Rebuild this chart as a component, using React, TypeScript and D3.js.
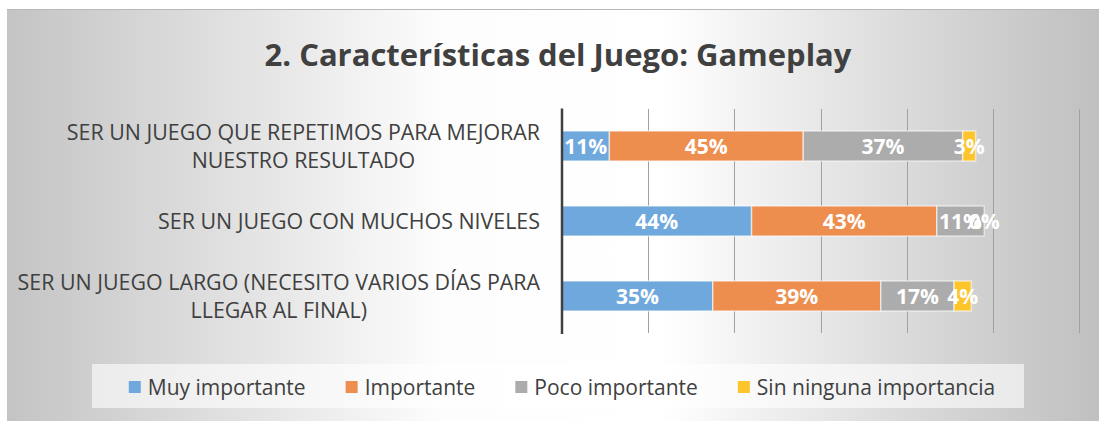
import React, { useEffect, useRef } from 'react';
import * as d3 from 'd3';

const width = 1099;
const height = 421;

const title = '2. Características del Juego: Gameplay';
const categories = [
  'SER UN JUEGO QUE REPETIMOS PARA MEJORAR\nNUESTRO RESULTADO',
  'SER UN JUEGO CON MUCHOS NIVELES',
  'SER UN JUEGO LARGO (NECESITO VARIOS DÍAS PARA\nLLEGAR AL FINAL)',
];
const seriesNames = ['Muy importante', 'Importante', 'Poco importante', 'Sin ninguna importancia'];
const muyImportante = [11, 44, 35];
const importante = [45, 43, 39];
const pocoImportante = [37, 11, 17];
const sinImportancia = [3, 0, 4];
const xTicks = [0, 20, 40, 60, 80, 100, 120];

const colors = ['#6fa8dc', '#ee8e4e', '#acacac', '#fdc42b'];
const textColor = '#404040';
const font = "'Open Sans', sans-serif";

const App = () => {
  const ref = useRef<SVGSVGElement>(null);

  useEffect(() => {
    const svg = d3.select(ref.current);
    svg.selectAll('*').remove();

    // background
    const defs = svg.append('defs');
    const grad = defs
      .append('linearGradient')
      .attr('id', 'bg')
      .attr('gradientUnits', 'userSpaceOnUse')
      .attr('x1', 7)
      .attr('y1', 0)
      .attr('x2', width)
      .attr('y2', 0);
    [
      [0, '#c4c4c4'],
      [0.2, '#e0e0e0'],
      [0.4, '#fdfdfd'],
      [0.6, '#ffffff'],
      [0.85, '#d6d6d6'],
      [1, '#c0c0c0'],
    ].forEach(([o, c]) => grad.append('stop').attr('offset', o).attr('stop-color', c));

    svg.append('rect').attr('x', 7).attr('y', 9).attr('width', width - 7).attr('height', height - 9).attr('fill', 'url(#bg)');
    svg.append('line').attr('x1', 7).attr('x2', width).attr('y1', 9.5).attr('y2', 9.5).attr('stroke', '#b8b8b8');

    svg
      .append('text')
      .attr('x', 558)
      .attr('y', 66)
      .attr('text-anchor', 'middle')
      .attr('font-family', font)
      .attr('font-weight', 700)
      .attr('font-size', 31)
      .attr('fill', textColor)
      .text(title);

    const x = d3.scaleLinear().domain([0, 120]).range([562, 1079]);
    const y = d3.scaleBand<string>().domain(categories).range([108.5, 333.5]).paddingInner(0.6).paddingOuter(0.3);

    // gridlines
    svg
      .append('g')
      .selectAll('line')
      .data(xTicks.slice(1))
      .join('line')
      .attr('x1', (d) => Math.round(x(d)) + 0.5)
      .attr('x2', (d) => Math.round(x(d)) + 0.5)
      .attr('y1', 109)
      .attr('y2', 333)
      .attr('stroke', '#a0a0a0')
      .attr('stroke-width', 1);

    const rows = categories.map((c, i) => ({
      cat: c,
      [seriesNames[0]]: muyImportante[i],
      [seriesNames[1]]: importante[i],
      [seriesNames[2]]: pocoImportante[i],
      [seriesNames[3]]: sinImportancia[i],
    }));
    const stacked = d3.stack<any>().keys(seriesNames)(rows);

    const layers = svg
      .append('g')
      .selectAll('g')
      .data(stacked)
      .join('g')
      .attr('fill', (d, i) => colors[i]);

    layers
      .selectAll('rect')
      .data((d) => d)
      .join('rect')
      .attr('x', (d) => x(d[0]))
      .attr('y', (d) => y(d.data.cat)!)
      .attr('width', (d) => x(d[1]) - x(d[0]))
      .attr('height', y.bandwidth())
      .attr('stroke', 'rgba(255,255,255,0.55)')
      .attr('stroke-width', 1.5);

    // data labels
    svg
      .append('g')
      .selectAll('g')
      .data(stacked)
      .join('g')
      .selectAll('text')
      .data((d) => d)
      .join('text')
      .attr('x', (d) => (x(d[0]) + x(d[1])) / 2)
      .attr('y', (d) => y(d.data.cat)! + y.bandwidth() / 2 + 7.5)
      .attr('text-anchor', 'middle')
      .attr('font-family', font)
      .attr('font-weight', 700)
      .attr('font-size', 21)
      .attr('fill', '#ffffff')
      .text((d) => `${d[1] - d[0]}%`);

    // axis line
    svg.append('line').attr('x1', 562).attr('x2', 562).attr('y1', 108.5).attr('y2', 334).attr('stroke', '#404040').attr('stroke-width', 2.5);

    // category labels, wrapped lines centred within a right-aligned block
    categories.forEach((c) => {
      const lines = c.split('\n');
      const cy = y(c)! + y.bandwidth() / 2;
      const g = svg.append('g');
      const texts = lines.map((ln, i) =>
        g
          .append('text')
          .attr('y', cy + (i - (lines.length - 1) / 2) * 28 + 7.5)
          .attr('text-anchor', 'middle')
          .attr('font-family', font)
          .attr('font-size', 21.4)
          .attr('fill', textColor)
          .text(ln)
      );
      const maxW = d3.max(texts, (t) => (t.node() as SVGTextElement).getComputedTextLength()) || 0;
      texts.forEach((t) => t.attr('x', 540 - maxW / 2));
    });

    // legend
    svg.append('rect').attr('x', 92).attr('y', 364).attr('width', 932).attr('height', 44).attr('fill', '#ffffff').attr('fill-opacity', 0.6);
    const lg = svg.append('g');
    let cx = 0;
    seriesNames.forEach((name, i) => {
      const item = lg.append('g').attr('transform', `translate(${cx},0)`);
      item.append('rect').attr('x', 0).attr('y', 381).attr('width', 12).attr('height', 12).attr('fill', colors[i]);
      const t = item
        .append('text')
        .attr('x', 19)
        .attr('y', 394.5)
        .attr('font-family', font)
        .attr('font-size', 21)
        .attr('fill', textColor)
        .text(name);
      cx += 19 + (t.node() as SVGTextElement).getComputedTextLength() + 40;
    });
    const total = cx - 40;
    lg.attr('transform', `translate(${562 - total / 2},0)`);
  }, []);

  return <svg ref={ref} width={width} height={height} style={{ position: 'absolute', left: 0, top: 0 }} />;
};

export default App;
